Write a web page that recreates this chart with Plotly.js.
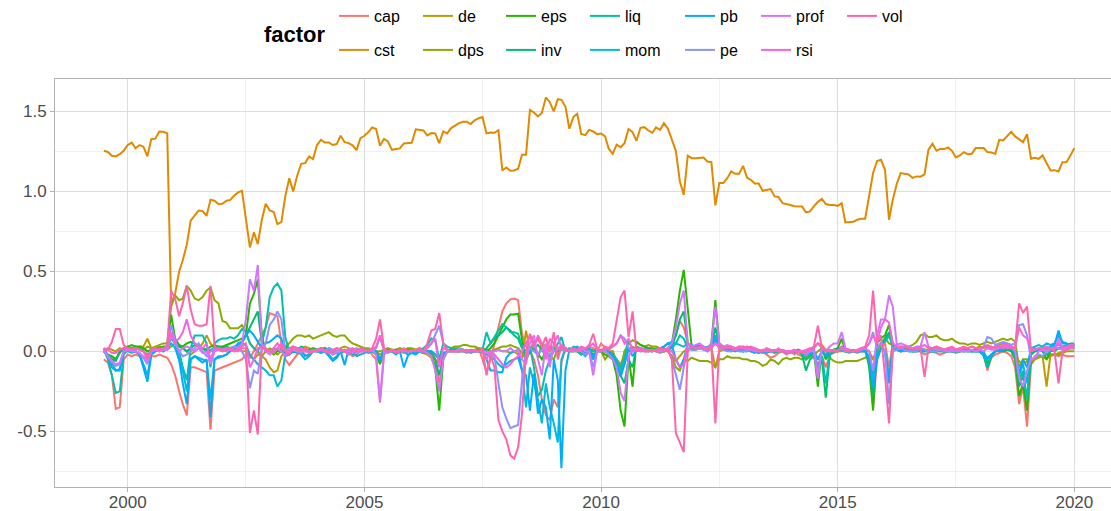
<!DOCTYPE html>
<html><head><meta charset="utf-8">
<script src="https://cdn.plot.ly/plotly-3.0.1.min.js"></script>
<style>html,body{margin:0;padding:0;background:#fff;overflow:hidden}#chart{width:1111px;height:511px}</style>
</head><body><div id="chart"></div>
<script>
// factor levels in ggplot order and their hue-palette colours
const factors = ['cap','cst','de','dps','eps','inv','liq','mom','pb','pe','prof','rsi','vol'];
const colors = ['#F8766D','#E18A00','#BE9C00','#8CAB00','#24B700','#00BE70','#00C1AB','#00BBDA','#00ACFC','#8B93FF','#D575FE','#F962DD','#FF65AC'];
// monthly series start (July 1999)
const startYear = 1999, startMonth = 7;
const xTickVals = ['2000-01-01','2005-01-01','2010-01-01','2015-01-01','2020-01-01'];
const xTickText = ['2000','2005','2010','2015','2020'];
const yTickVals = [-0.5,0,0.5,1,1.5];
const yTickText = ['-0.5','0.0','0.5','1.0','1.5'];

const cap = [
-0.05,-0.07,-0.15,-0.36,-0.35,-0.05,
-0.02,-0.03,-0.02,-0.03,-0.04,-0.05,-0.03,-0.03,-0.02,-0.03,-0.04,-0.08,
-0.15,-0.25,-0.33,-0.40,-0.10,-0.10,-0.11,-0.12,-0.13,-0.49,-0.12,-0.11,
-0.10,-0.09,-0.08,-0.07,-0.06,-0.05,-0.02,-0.04,0.00,0.05,0.10,0.15,
0.24,0.23,0.22,0.05,-0.05,-0.085,-0.05,-0.02,0.00,-0.02,-0.03,0.00,
0.00,-0.01,0.01,0.00,-0.02,-0.01,0.00,0.01,-0.01,-0.03,-0.02,0.00,
0.00,0.01,-0.02,-0.05,-0.32,-0.02,0.00,0.00,0.01,0.00,-0.01,0.00,
0.00,0.01,0.00,-0.01,0.00,-0.01,-0.05,-0.20,-0.05,0.00,0.01,0.00,
0.00,0.00,-0.01,0.00,0.01,0.02,-0.05,-0.13,-0.05,0.05,0.15,0.25,
0.30,0.325,0.33,0.32,0.11,0.03,0.00,-0.05,-0.15,-0.30,-0.40,-0.43,
-0.30,-0.35,-0.07,0.02,0.00,0.00,0.02,-0.01,0.01,0.03,0.02,0.00,
0.05,0.02,0.00,-0.03,-0.05,-0.08,-0.03,0.00,0.03,0.02,0.01,0.00,
0.00,0.01,0.00,-0.01,0.00,0.02,0.05,0.10,0.19,0.15,0.05,0.02,
0.03,0.04,0.03,0.02,0.03,0.10,0.03,0.02,0.02,0.02,0.01,0.02,
0.02,0.03,0.02,0.01,0.00,0.00,-0.02,-0.04,-0.03,-0.01,0.00,-0.01,
-0.01,0.00,-0.02,-0.03,-0.05,-0.03,-0.02,-0.08,-0.03,-0.10,-0.02,-0.01,
0.00,0.02,0.00,-0.01,0.00,-0.01,0.00,0.00,-0.05,-0.35,-0.05,0.02,
0.05,-0.10,0.05,0.02,0.00,0.00,0.01,0.00,0.00,0.00,-0.02,-0.01,
0.00,-0.01,-0.02,-0.01,0.00,0.00,-0.01,0.00,0.00,0.01,0.00,0.00,
0.00,-0.02,-0.12,-0.04,-0.02,-0.01,0.00,-0.01,-0.03,-0.10,-0.33,-0.22,
-0.47,-0.08,-0.03,-0.02,-0.03,-0.02,-0.03,-0.02,-0.03,-0.02,-0.03,-0.03,
-0.03];

const cst = [
1.254,1.247,1.223,1.219,1.233,1.254,
1.29,1.306,1.27,1.29,1.28,1.22,1.327,1.33,1.375,1.373,1.364,0.30,
0.36,0.50,0.57,0.667,0.817,0.848,0.881,0.877,0.848,0.948,0.942,0.921,
0.923,0.942,0.946,0.973,0.994,1.004,0.82,0.65,0.744,0.671,0.823,0.923,
0.881,0.871,0.796,0.808,0.969,1.083,1.0,1.098,1.173,1.177,1.219,1.202,
1.29,1.323,1.306,1.306,1.29,1.296,1.348,1.308,1.302,1.288,1.258,1.333,
1.348,1.371,1.40,1.39,1.285,1.329,1.313,1.26,1.265,1.269,1.30,1.30,
1.304,1.388,1.383,1.381,1.35,1.365,1.363,1.302,1.375,1.363,1.396,1.41,
1.427,1.435,1.435,1.421,1.444,1.458,1.465,1.363,1.369,1.367,1.383,1.131,
1.15,1.129,1.131,1.142,1.229,1.229,1.51,1.494,1.469,1.49,1.588,1.558,
1.50,1.577,1.573,1.531,1.392,1.465,1.485,1.36,1.352,1.385,1.375,1.358,
1.362,1.344,1.267,1.235,1.292,1.277,1.302,1.39,1.371,1.317,1.398,1.402,
1.381,1.367,1.40,1.385,1.427,1.392,1.327,1.254,1.0625,0.979,1.223,1.208,
1.208,1.2125,1.2125,1.1875,1.183,0.9125,1.052,1.052,1.083,1.125,1.11,1.11,
1.16,1.085,1.073,1.05,1.05,1.004,1.01,1.015,0.969,0.965,0.927,0.919,
0.915,0.908,0.908,0.906,0.869,0.875,0.906,0.935,0.954,0.921,0.915,0.915,
0.91,0.927,0.806,0.808,0.81,0.823,0.829,0.829,0.973,1.115,1.19,1.198,
1.135,0.823,0.948,1.048,1.115,1.108,1.106,1.085,1.094,1.092,1.106,1.26,
1.298,1.254,1.265,1.265,1.275,1.254,1.2125,1.225,1.246,1.233,1.235,1.271,
1.273,1.271,1.246,1.244,1.235,1.323,1.319,1.344,1.373,1.344,1.323,1.308,
1.358,1.204,1.21,1.204,1.225,1.177,1.131,1.133,1.125,1.183,1.183,1.223,
1.271];

const de = [
0.00,0.02,0.01,0.00,0.02,0.01,
0.01,0.02,0.01,0.03,0.03,0.08,0.02,0.02,0.03,0.02,0.01,0.03,
0.05,0.03,0.02,0.00,-0.02,0.00,0.02,0.05,0.10,0.05,0.02,0.02,
0.02,0.01,0.02,0.03,0.02,0.00,0.00,-0.03,-0.05,-0.02,-0.03,-0.05,
-0.10,-0.13,-0.12,-0.03,0.00,0.02,0.03,0.02,0.01,0.03,0.02,0.00,
0.01,0.02,0.02,0.01,0.00,-0.01,0.02,0.03,0.02,0.01,0.00,0.01,
0.00,0.01,0.00,0.00,-0.02,0.00,0.01,0.00,0.00,0.01,0.00,0.00,
0.00,-0.01,0.00,-0.01,-0.02,-0.04,-0.10,-0.08,-0.02,0.00,0.00,0.01,
0.00,0.01,0.00,0.00,0.00,0.00,-0.01,0.00,0.00,0.00,0.01,0.00,
0.00,-0.01,0.00,-0.02,-0.05,0.13,0.00,0.07,-0.04,0.05,0.03,0.00,
0.03,-0.02,0.04,0.02,0.00,0.00,0.00,0.02,0.01,0.00,0.01,0.00,
0.00,0.00,0.00,0.00,-0.06,-0.15,0.00,0.02,0.02,0.01,0.02,0.01,
0.02,0.01,0.02,0.02,0.00,0.00,-0.03,-0.06,-0.03,0.00,0.01,0.02,
0.01,0.02,0.02,0.00,0.02,-0.10,0.00,0.01,0.02,0.01,0.02,0.01,
0.00,0.01,0.00,0.00,-0.01,0.00,0.00,0.00,0.01,0.00,0.00,0.00,
0.00,0.01,0.00,0.00,-0.01,0.00,0.03,0.05,0.04,0.01,0.00,0.00,
0.00,0.00,0.00,0.01,0.00,0.00,0.00,0.00,0.00,-0.05,0.02,0.04,
0.06,0.10,0.05,0.02,0.00,0.01,0.01,0.00,0.00,0.02,0.01,0.01,
0.01,0.02,0.01,0.00,0.01,0.00,0.00,0.01,0.00,0.01,0.00,0.02,
0.03,0.02,0.03,0.02,0.03,0.04,0.05,0.05,0.04,-0.03,-0.06,-0.08,
-0.06,-0.08,-0.05,-0.04,-0.03,-0.22,-0.02,-0.02,-0.01,0.00,0.01,0.02,
0.02];

const dps = [
0.00,-0.03,-0.05,-0.05,0.00,0.02,
0.03,0.02,0.03,0.02,0.01,0.03,0.02,0.03,0.04,0.05,0.05,0.28,
0.35,0.32,0.33,0.41,0.38,0.33,0.32,0.34,0.38,0.40,0.32,0.30,
0.19,0.18,0.145,0.145,0.145,0.165,0.12,0.05,0.02,0.00,-0.03,0.00,
0.02,0.00,-0.02,0.00,0.03,0.05,0.08,0.10,0.10,0.09,0.10,0.08,
0.09,0.10,0.11,0.12,0.10,0.09,0.10,0.10,0.07,0.05,0.04,0.03,
0.02,0.02,0.01,0.00,0.00,0.01,0.02,0.01,0.01,0.02,0.01,0.02,
0.02,0.01,0.02,0.01,0.00,0.00,-0.05,-0.08,-0.04,0.00,0.02,0.03,
0.03,0.04,0.04,0.03,0.03,0.02,0.02,0.01,0.00,0.01,0.02,0.03,
0.03,0.04,0.03,0.02,-0.01,-0.05,0.00,0.05,0.08,0.04,0.00,-0.03,
-0.05,0.02,0.03,0.02,0.00,0.01,0.02,0.01,0.00,-0.01,0.00,0.01,
0.00,-0.05,-0.02,0.00,-0.08,-0.10,0.00,0.05,0.07,0.06,0.04,0.03,
0.04,0.03,0.03,0.02,0.02,0.00,-0.03,-0.10,-0.12,-0.05,-0.06,-0.04,
-0.05,-0.06,-0.06,-0.06,-0.07,-0.10,-0.05,-0.05,-0.03,-0.04,-0.04,-0.04,
-0.05,-0.05,-0.06,-0.06,-0.07,-0.09,-0.08,-0.05,-0.06,-0.08,-0.05,-0.04,
-0.05,-0.04,-0.04,-0.05,-0.03,-0.03,-0.02,0.00,0.02,0.01,-0.04,-0.06,
-0.07,-0.07,-0.06,-0.06,-0.06,-0.06,-0.05,-0.04,-0.02,-0.05,0.00,0.05,
0.08,0.05,0.04,0.02,0.03,0.02,0.03,0.04,0.06,0.10,0.11,0.09,
0.09,0.10,0.08,0.07,0.07,0.08,0.06,0.05,0.05,0.04,0.05,0.05,
0.04,0.05,0.06,0.05,0.06,0.07,0.08,0.07,0.08,0.06,-0.10,-0.05,
-0.05,-0.08,-0.05,-0.03,-0.03,-0.05,-0.02,-0.02,-0.02,-0.01,0.00,0.00,
0.00];

const eps = [
0.00,-0.02,-0.03,-0.05,-0.01,0.02,
0.03,0.04,0.03,0.03,0.02,0.00,0.01,0.02,0.02,0.03,0.03,0.23,
0.08,0.04,0.03,0.05,0.06,0.05,0.03,0.02,0.01,0.03,0.04,0.03,
0.03,0.04,0.05,0.06,0.07,0.08,0.10,0.30,0.36,0.45,0.10,0.00,
0.00,-0.02,0.00,0.02,0.03,0.02,0.00,0.01,0.02,0.00,0.01,0.02,
0.01,0.00,0.02,0.01,0.00,-0.01,0.01,0.00,0.00,0.01,0.00,0.01,
0.00,0.01,0.00,-0.02,-0.08,0.00,0.01,0.00,0.01,0.00,0.00,0.01,
0.01,0.00,0.00,-0.01,0.00,-0.02,-0.10,-0.37,-0.05,0.00,0.01,0.00,
0.00,0.01,0.00,0.00,0.00,0.01,0.00,0.00,0.02,0.05,0.10,0.15,
0.20,0.23,0.23,0.235,0.07,-0.05,0.00,0.02,-0.02,-0.05,0.00,0.03,
0.02,0.00,0.03,0.02,0.00,0.01,0.00,-0.02,0.00,0.00,-0.05,0.00,
0.00,-0.02,-0.03,-0.05,-0.15,-0.37,-0.47,-0.03,-0.22,0.06,0.04,0.03,
0.02,0.02,0.01,0.01,0.00,0.02,0.05,0.20,0.38,0.51,0.25,0.03,
0.03,0.04,0.03,0.02,0.05,0.32,0.05,0.03,0.02,0.03,0.02,0.02,
0.02,0.01,0.02,0.01,0.00,0.00,0.01,0.00,0.00,0.01,0.00,0.00,
0.00,0.00,0.01,-0.02,-0.05,-0.03,0.00,-0.22,0.02,-0.05,0.00,0.01,
0.02,0.08,0.00,0.01,0.00,0.00,0.01,0.02,-0.10,-0.37,0.05,0.08,
0.10,0.165,0.05,0.02,0.03,0.02,0.02,0.01,0.02,0.02,0.01,0.00,
0.00,0.01,0.00,0.00,0.00,0.01,0.00,0.00,0.01,0.00,0.00,0.01,
0.01,0.00,-0.08,-0.03,0.00,0.01,0.00,0.01,0.02,-0.05,-0.28,-0.20,
-0.37,-0.02,0.00,0.01,0.00,-0.05,0.00,0.01,0.02,0.02,0.03,0.03,
0.03];

const inv = [
0.00,-0.02,-0.05,-0.06,0.00,0.02,
0.02,0.01,0.02,0.01,0.00,-0.02,0.00,0.01,0.02,0.01,0.03,0.10,
0.05,0.03,0.02,0.00,0.02,0.04,0.03,0.02,0.00,0.01,0.02,0.03,
0.02,0.03,0.02,0.01,0.02,0.05,0.10,0.15,0.20,0.25,0.05,0.00,
0.00,0.02,0.01,0.00,0.01,0.02,0.00,0.01,0.03,0.02,0.00,0.01,
0.01,0.00,0.02,0.00,-0.01,0.00,0.01,0.00,0.00,-0.01,0.00,0.01,
0.00,0.00,0.01,0.00,-0.05,0.00,0.01,0.00,0.00,0.01,0.00,0.00,
0.00,0.01,0.00,0.00,0.00,-0.02,-0.05,-0.15,-0.03,0.00,0.00,0.01,
0.00,0.00,0.01,0.00,0.00,0.00,0.00,0.02,0.05,0.08,0.10,0.12,
0.15,0.13,0.10,0.08,0.02,-0.02,0.00,0.02,0.04,0.01,-0.03,-0.02,
0.00,0.02,0.01,0.01,0.00,0.00,0.00,0.01,0.00,0.00,-0.02,0.00,
0.01,0.00,-0.02,-0.03,-0.08,-0.15,-0.20,-0.05,-0.10,0.03,0.02,0.01,
0.01,0.01,0.00,0.00,0.00,0.01,0.03,0.10,0.20,0.25,0.05,0.02,
0.02,0.02,0.01,0.02,0.03,0.15,0.03,0.02,0.01,0.01,0.00,0.01,
0.00,0.01,0.00,0.00,-0.01,0.00,0.00,0.00,-0.01,0.00,0.00,0.00,
0.00,-0.01,0.00,-0.02,-0.12,-0.05,-0.03,-0.12,-0.05,-0.29,-0.02,0.00,
0.01,0.03,0.00,0.00,0.00,0.00,0.00,0.01,-0.08,-0.28,0.02,0.05,
0.08,0.12,0.04,0.02,0.02,0.01,0.02,0.00,0.00,0.01,0.00,0.00,
0.00,0.00,0.01,0.00,0.00,0.00,0.00,0.01,0.00,0.00,0.01,0.00,
0.00,-0.02,-0.10,-0.03,0.00,0.01,0.00,0.01,0.00,-0.05,-0.22,-0.15,
-0.30,-0.02,0.00,0.00,0.01,0.00,0.01,0.00,0.02,0.02,0.01,0.02,
0.02];

const liq = [
0.01,-0.05,-0.15,-0.26,-0.25,-0.02,
0.01,0.02,0.01,0.02,0.00,-0.03,0.00,0.01,0.02,0.02,0.03,0.08,
0.05,0.00,-0.10,-0.18,0.02,0.10,0.10,0.10,0.05,-0.10,0.05,0.07,
0.08,0.08,0.09,0.08,0.10,0.14,0.12,0.05,0.02,0.00,0.05,0.15,
0.34,0.40,0.425,0.38,0.09,0.00,0.01,0.00,0.02,0.01,0.00,0.01,
0.00,0.01,0.00,0.02,0.01,0.00,-0.01,0.00,0.01,0.00,0.01,0.00,
0.00,0.00,0.01,0.00,-0.06,0.00,0.01,0.00,0.00,0.00,0.01,0.00,
0.01,0.00,0.00,0.02,0.04,0.08,0.07,-0.05,0.05,0.03,0.02,0.02,
0.02,0.01,0.00,0.01,0.00,0.00,0.01,0.12,0.05,0.09,0.13,0.17,
0.15,0.12,0.12,0.11,0.03,0.00,0.03,-0.10,-0.28,-0.24,-0.12,-0.05,
0.00,0.05,0.09,0.00,0.02,0.01,0.00,-0.02,0.00,0.02,0.00,0.01,
0.00,0.02,0.00,-0.02,-0.05,-0.10,-0.05,0.07,0.01,0.02,0.01,0.01,
0.01,0.00,0.01,0.00,0.00,0.01,0.02,0.05,0.10,0.08,0.02,0.01,
0.01,0.02,0.02,0.01,0.03,0.10,0.02,0.02,0.01,0.00,0.01,0.00,
0.00,0.00,0.01,0.00,0.00,-0.01,0.00,0.00,0.00,0.01,0.00,0.00,
0.00,0.00,0.00,-0.01,-0.05,-0.02,-0.02,-0.10,-0.03,-0.20,-0.02,0.00,
0.00,0.02,0.00,0.00,0.00,0.00,0.00,0.00,-0.05,-0.20,0.02,0.05,
0.06,0.10,0.03,0.02,0.01,0.01,0.01,0.00,0.01,0.00,0.00,0.00,
0.00,0.00,0.00,0.01,0.00,0.00,0.00,0.00,0.00,0.01,0.00,0.00,
0.00,-0.03,-0.10,-0.03,0.00,0.01,0.02,0.02,0.02,0.00,-0.18,-0.12,
-0.30,0.00,0.02,0.01,0.00,-0.02,0.00,0.03,0.04,0.03,0.04,0.05,
0.05];

const mom = [
0.02,-0.03,-0.08,-0.12,-0.11,0.00,
0.00,-0.01,0.00,-0.02,-0.08,-0.15,-0.02,0.00,0.01,0.00,0.02,0.05,
0.02,-0.05,-0.12,-0.25,-0.05,-0.03,-0.04,-0.05,-0.06,-0.30,-0.05,-0.04,
-0.03,-0.02,0.00,0.02,0.04,0.05,0.04,-0.02,-0.05,-0.08,-0.10,-0.12,
-0.15,-0.15,-0.22,-0.18,-0.02,-0.02,0.01,0.00,-0.02,-0.05,-0.03,0.00,
0.00,-0.01,0.00,-0.02,-0.05,-0.03,0.00,0.01,0.00,-0.02,0.00,0.01,
0.00,-0.01,0.00,0.00,-0.05,0.00,0.01,0.00,-0.01,0.00,0.00,-0.02,
-0.01,-0.02,0.00,-0.01,0.00,0.00,-0.02,-0.05,-0.02,0.00,0.00,0.00,
0.00,0.01,0.00,-0.01,0.00,0.00,0.00,-0.02,-0.03,-0.05,-0.08,-0.10,
-0.08,-0.06,-0.05,-0.04,-0.12,-0.35,-0.10,-0.20,-0.30,-0.45,-0.20,-0.35,
-0.45,-0.57,-0.05,0.02,0.00,0.03,0.02,0.00,-0.03,0.00,-0.05,0.00,
0.00,0.02,0.00,-0.03,-0.08,-0.12,-0.08,0.02,0.00,0.01,0.00,0.01,
0.00,0.00,0.01,0.02,0.03,0.05,0.06,0.05,0.04,0.03,0.05,0.04,
0.03,0.03,0.02,0.03,0.04,0.06,0.03,0.02,0.03,0.02,0.02,0.01,
0.01,0.02,0.01,0.00,0.01,0.00,0.00,0.01,0.00,0.00,0.01,0.00,
0.00,0.00,0.01,0.00,-0.02,-0.01,0.00,-0.05,0.00,-0.02,0.00,0.01,
0.00,0.01,0.00,0.00,0.01,0.00,0.00,0.00,-0.03,-0.15,-0.02,0.02,
0.00,-0.15,0.02,0.01,0.00,0.01,0.00,0.00,0.01,0.00,0.00,0.01,
0.00,0.01,0.00,0.00,0.01,0.00,0.00,0.00,0.01,0.00,0.00,0.00,
0.00,-0.01,-0.04,-0.02,0.00,0.01,0.01,0.02,0.02,0.00,-0.15,-0.08,
-0.20,0.02,0.03,0.04,0.03,0.05,0.04,0.05,0.10,0.06,0.05,0.04,
0.04];

const pb = [
0.02,-0.03,-0.10,-0.12,-0.12,0.00,
0.01,0.00,0.00,-0.02,-0.10,-0.19,-0.02,0.00,0.01,0.00,0.02,0.12,
0.05,-0.05,-0.20,-0.33,-0.05,-0.03,-0.05,-0.07,-0.05,-0.41,-0.05,-0.03,
-0.03,-0.02,0.00,0.02,0.05,0.06,0.10,0.13,0.10,0.06,0.02,0.05,
0.06,0.08,0.10,0.08,-0.03,-0.02,0.00,-0.01,0.00,-0.03,-0.02,0.00,
0.00,0.02,0.00,-0.03,-0.06,-0.04,0.00,-0.085,0.01,0.00,-0.03,-0.02,
-0.01,0.00,0.00,0.00,-0.05,0.00,0.01,0.00,-0.02,0.00,-0.10,-0.03,
0.00,-0.01,0.00,0.00,0.00,0.00,-0.02,-0.05,-0.01,0.00,0.00,0.00,
0.00,0.00,0.00,0.00,0.00,0.00,0.00,-0.05,-0.12,-0.12,-0.13,-0.13,
-0.04,-0.01,0.00,0.01,-0.12,-0.15,-0.37,-0.14,-0.39,-0.30,-0.35,-0.55,
-0.05,-0.18,-0.73,-0.12,0.01,0.02,0.03,0.01,-0.02,0.01,-0.04,0.00,
0.00,0.02,0.00,-0.03,-0.08,-0.16,-0.08,0.02,-0.03,0.01,0.02,0.01,
0.01,0.00,0.01,0.02,0.03,0.05,0.04,-0.05,-0.10,-0.05,0.05,0.03,
0.03,0.02,0.03,0.02,0.03,0.08,0.03,0.02,0.01,0.01,0.02,0.01,
0.00,0.01,0.00,-0.01,0.00,0.00,-0.01,0.00,0.00,0.01,0.00,0.00,
0.00,0.00,0.01,0.00,-0.02,-0.01,0.00,-0.05,0.00,-0.03,0.00,0.01,
0.01,0.02,0.00,0.00,0.00,0.00,0.01,0.00,-0.05,-0.23,-0.05,0.02,
0.00,-0.20,0.02,0.01,0.00,0.01,0.00,0.00,0.00,0.00,0.01,0.00,
0.00,0.00,0.01,0.00,0.00,0.00,0.00,0.00,0.01,0.00,0.00,0.00,
0.00,-0.02,-0.05,-0.02,0.00,0.00,0.01,0.02,0.02,0.00,-0.14,-0.05,
-0.10,0.02,0.01,0.00,0.02,0.02,0.03,0.04,0.13,0.05,0.05,0.04,
0.04];

const pe = [
0.00,-0.03,-0.07,-0.09,-0.08,0.00,
0.01,0.00,0.00,-0.01,-0.04,-0.08,0.00,0.01,0.00,0.01,0.02,0.165,
0.07,0.00,-0.03,-0.02,0.00,0.02,0.05,0.00,-0.03,0.00,0.02,0.01,
0.01,0.00,0.02,0.03,0.02,0.00,-0.05,-0.23,-0.12,-0.14,0.02,0.05,
0.165,0.20,0.25,0.20,0.00,0.02,0.01,0.00,-0.01,0.02,0.00,0.01,
0.00,0.01,0.00,0.02,0.00,-0.01,0.00,0.01,0.00,0.00,0.02,0.01,
0.00,0.01,0.00,0.02,0.09,0.00,-0.01,0.00,0.00,0.01,0.00,0.00,
0.00,0.01,0.00,0.00,0.02,0.05,0.10,0.16,0.05,0.01,0.00,0.00,
0.02,0.00,0.01,0.00,0.00,0.00,0.00,0.00,-0.02,-0.03,-0.20,-0.35,
-0.42,-0.48,-0.47,-0.46,-0.18,0.00,0.02,0.00,-0.02,0.01,0.00,-0.02,
0.00,0.01,0.03,0.02,0.00,0.00,0.01,0.00,-0.02,0.00,-0.10,0.00,
0.00,0.01,0.02,0.03,0.05,0.10,0.08,0.02,0.00,0.01,0.00,0.00,
0.00,0.00,0.01,0.00,0.00,0.02,-0.05,-0.15,-0.24,-0.10,0.02,0.01,
0.01,0.02,0.01,0.00,0.02,0.05,0.02,0.01,0.00,0.00,0.01,0.00,
0.00,0.00,0.01,0.00,0.00,0.00,0.00,0.00,0.01,0.00,0.00,0.00,
0.00,0.00,0.00,0.00,-0.01,0.00,0.02,-0.14,0.02,0.00,0.00,0.01,
0.00,0.02,0.00,0.00,0.00,0.00,0.01,0.02,0.05,0.12,0.02,0.05,
0.00,-0.33,0.00,0.01,0.02,0.01,0.00,0.00,0.00,0.02,0.01,0.00,
0.00,0.00,0.01,0.00,0.00,0.00,0.01,0.00,0.00,0.00,0.01,0.00,
0.01,0.03,0.09,0.08,0.04,0.05,0.06,0.05,0.04,0.05,0.165,0.17,
0.10,-0.05,-0.04,-0.02,-0.03,0.00,0.01,0.02,0.02,0.01,0.02,0.03,
0.03];

const prof = [
0.01,-0.03,-0.06,-0.08,-0.07,0.00,
0.01,0.00,0.00,-0.01,-0.03,-0.06,0.00,0.01,0.00,0.01,0.01,0.10,
0.05,0.00,0.02,0.03,0.02,0.00,0.02,-0.01,0.00,-0.08,0.00,0.01,
0.01,0.02,0.01,0.00,0.02,0.05,0.20,0.45,0.38,0.54,0.05,0.00,
-0.02,0.00,0.02,0.00,-0.03,0.00,0.01,0.00,0.02,0.00,-0.01,0.00,
0.00,0.01,0.00,0.00,-0.02,0.00,0.01,0.00,0.00,-0.01,0.00,0.00,
0.00,0.00,0.01,-0.02,-0.31,0.00,0.00,0.01,0.00,0.00,0.00,0.00,
0.00,0.01,0.00,0.00,-0.01,-0.03,-0.12,-0.25,-0.05,0.00,0.00,0.00,
0.00,0.01,0.00,0.00,0.00,0.00,0.00,-0.01,0.00,0.00,0.01,0.00,
0.00,0.02,0.00,0.01,-0.05,-0.08,0.05,0.10,-0.05,-0.15,0.05,-0.10,
0.05,0.02,0.04,0.02,0.00,0.01,0.00,0.02,0.00,0.00,-0.15,0.00,
0.00,0.00,-0.02,-0.05,-0.10,-0.26,-0.31,-0.03,0.01,0.02,0.01,0.00,
0.00,0.01,0.00,0.00,0.00,0.02,0.05,0.15,0.30,0.38,0.05,0.03,
0.04,0.05,0.03,0.02,0.05,0.28,0.05,0.03,0.04,0.03,0.02,0.03,
0.02,0.01,0.02,0.00,0.00,0.00,0.01,0.00,0.00,0.02,0.00,0.00,
0.00,0.01,0.00,0.00,-0.02,0.00,0.00,-0.17,0.02,0.00,0.03,0.05,
0.05,0.12,0.02,0.01,0.00,0.00,0.01,0.02,0.00,-0.12,0.10,0.20,
0.20,0.35,0.28,0.04,0.05,0.04,0.03,0.02,0.03,0.03,0.12,0.03,
0.02,0.01,0.02,0.01,0.00,0.01,0.00,0.01,0.00,0.00,0.01,0.00,
0.01,0.00,0.02,0.01,0.01,0.02,0.03,0.02,0.03,0.00,-0.16,-0.22,
-0.12,-0.05,-0.04,0.00,0.01,0.00,0.02,0.01,0.08,0.02,0.01,0.02,
0.02];

const rsi = [
0.02,0.01,-0.01,-0.01,0.01,0.02,
0.02,0.01,0.02,0.01,0.00,-0.03,0.01,0.02,0.01,0.02,0.03,0.12,
0.06,0.08,0.12,0.20,0.10,0.05,0.03,0.02,0.05,-0.05,0.01,0.02,
0.01,0.02,0.01,0.00,0.02,0.03,0.05,-0.10,-0.05,0.02,0.03,0.01,
0.00,0.02,0.05,0.02,0.00,0.01,0.03,0.02,0.00,0.01,-0.01,0.00,
0.01,0.02,0.00,-0.01,0.01,0.02,0.01,0.00,0.01,0.02,0.01,0.00,
0.01,0.00,0.01,0.03,0.10,0.01,0.00,0.01,0.00,0.00,0.01,0.00,
0.00,0.01,0.00,0.00,0.02,0.05,0.08,-0.10,0.02,0.01,0.00,0.00,
0.00,0.01,0.00,0.00,0.00,0.00,0.01,-0.05,0.00,-0.02,-0.05,-0.08,
-0.10,-0.08,-0.05,-0.03,0.00,0.05,0.10,0.02,0.10,0.05,-0.05,0.08,
0.05,0.10,0.02,0.00,0.01,0.02,0.00,0.01,0.02,0.03,0.05,0.01,
0.00,0.02,0.01,0.03,0.05,0.10,0.05,0.08,0.00,0.01,0.02,0.01,
0.01,0.00,0.01,0.02,0.01,0.02,0.00,-0.05,-0.10,-0.08,0.05,0.03,
0.02,0.03,0.02,0.02,0.03,0.05,0.04,0.03,0.02,0.03,0.02,0.02,
0.02,0.03,0.02,0.01,0.00,0.01,0.01,0.00,0.01,0.00,0.01,0.00,
0.00,0.01,0.00,0.00,0.01,0.02,0.02,0.05,0.02,0.01,0.00,0.01,
0.00,0.03,0.01,0.00,0.00,0.01,0.02,0.02,0.05,0.10,0.05,0.15,
0.20,0.18,0.05,0.03,0.02,0.03,0.02,0.02,0.02,0.03,0.04,0.02,
0.02,0.03,0.02,0.01,0.02,0.02,0.01,0.02,0.02,0.02,0.03,0.02,
0.02,0.03,0.03,0.02,0.03,0.03,0.04,0.04,0.03,0.02,0.15,0.10,
0.08,0.02,0.01,0.02,0.02,0.03,0.02,0.02,0.05,0.02,0.03,0.04,
0.04];

const vol = [
0.01,0.01,0.06,0.14,0.14,0.04,
0.02,0.01,0.02,0.01,0.00,-0.05,0.01,0.02,0.01,0.02,0.03,0.38,
0.33,0.22,0.30,0.41,0.26,0.17,0.16,0.16,0.17,0.41,0.03,0.01,
0.00,0.01,0.02,0.01,0.00,0.02,0.02,-0.51,-0.37,-0.52,0.03,0.02,
0.00,-0.01,0.02,0.05,0.00,-0.02,0.03,0.01,0.00,0.02,-0.01,0.01,
0.00,0.02,0.01,-0.01,0.00,0.02,0.01,0.00,-0.02,0.01,0.00,0.02,
0.01,0.00,0.02,0.08,0.20,0.02,0.00,0.01,-0.01,0.00,0.02,0.00,
0.01,0.00,0.02,0.00,0.05,0.13,0.14,0.24,0.05,0.01,0.00,0.00,
0.00,0.01,0.00,0.00,0.01,0.00,0.02,-0.15,-0.02,-0.10,-0.43,-0.50,
-0.55,-0.65,-0.67,-0.60,-0.39,0.00,0.11,0.05,0.08,0.03,0.09,0.00,
0.12,-0.05,0.03,0.02,0.00,0.02,0.01,0.03,0.02,0.04,0.11,0.02,
0.00,0.03,0.02,0.05,0.20,0.34,0.38,0.09,0.25,0.00,0.01,0.00,
0.00,0.01,0.00,0.02,0.00,0.01,-0.05,-0.51,-0.57,-0.63,0.00,0.03,
0.02,0.03,0.02,0.01,0.03,-0.45,0.03,0.02,0.03,0.02,0.01,0.03,
0.03,0.02,0.03,0.02,0.01,0.00,0.02,0.01,0.00,0.01,0.00,-0.02,
0.00,-0.02,0.00,-0.01,0.00,0.01,0.03,0.16,0.02,0.00,0.01,0.00,
0.00,0.02,0.01,0.00,0.01,0.00,0.02,0.03,0.10,0.38,0.05,0.10,
-0.15,-0.45,0.02,0.03,0.03,0.03,0.02,0.01,0.02,0.02,-0.16,0.02,
0.02,0.03,0.02,0.01,0.02,0.03,0.01,0.02,0.03,0.02,0.03,0.02,
0.02,0.03,0.04,0.03,0.02,0.03,0.02,0.03,0.02,0.03,0.30,0.24,
0.28,0.00,0.01,0.02,0.02,0.01,0.02,0.00,-0.20,0.00,0.01,0.03,
0.03];

const seriesValues = [cap,cst,de,dps,eps,inv,liq,mom,pb,pe,prof,rsi,vol];

// legend layout: ggplot legend has 7 columns x 2 rows filled column-wise
const legendColX = [340, 424, 507, 591, 686, 762, 848];
const legendRowY = [16, 50];

function monthDates(n){
  const out = [];
  for (let i = 0; i < n; i++){
    const m = startMonth - 1 + i;
    const y = startYear + Math.floor(m / 12);
    const mm = (m % 12) + 1;
    out.push(y + '-' + String(mm).padStart(2,'0') + '-01');
  }
  return out;
}

const W = 1111, H = 511;
const traces = [];
const layout = {
  width: W, height: H,
  margin: {l: 55, r: 0, t: 79, b: 24, pad: 0, autoexpand: false},
  paper_bgcolor: '#ffffff', plot_bgcolor: '#ffffff',
  font: {family: 'Liberation Sans, Arial, sans-serif', color: '#4d4d4d'},
  showlegend: true,
  xaxis: {
    type: 'date',
    range: ['1998-06-19', '2020-10-10'],
    tickmode: 'array', tickvals: xTickVals, ticktext: xTickText,
    showgrid: true, gridcolor: '#dedede', gridwidth: 1,
    minor: {tickmode: 'linear', dtick: 'M30', tick0: '2000-01-01', showgrid: true, gridcolor: '#e8e8e8', gridwidth: 0.6, ticks: ''},
    showline: true, linecolor: '#b3b3b3', linewidth: 1, mirror: true,
    ticks: 'outside', ticklen: 4, tickcolor: '#b3b3b3', tickwidth: 1,
    ticklabelstandoff: -4,
    tickfont: {size: 17, color: '#4d4d4d'},
    zeroline: false, automargin: false
  },
  yaxis: {
    range: [-0.848, 1.703],
    tickmode: 'array', tickvals: yTickVals, ticktext: yTickText,
    showgrid: true, gridcolor: '#dedede', gridwidth: 1,
    minor: {tickmode: 'linear', dtick: 0.25, tick0: 0, showgrid: true, gridcolor: '#e8e8e8', gridwidth: 0.6, ticks: ''},
    showline: true, linecolor: '#b3b3b3', linewidth: 1, mirror: false,
    ticks: 'outside', ticklen: 4, tickcolor: '#b3b3b3', tickwidth: 1,
    tickfont: {size: 17, color: '#4d4d4d'},
    zeroline: false, automargin: false
  },
  annotations: [{
    text: '<b>factor</b>', xref: 'paper', yref: 'paper',
    x: (262 - 55) / 1056, y: 1 + (79 - 35) / 408,
    xanchor: 'left', yanchor: 'middle', showarrow: false,
    font: {size: 22, color: '#000000', family: 'Liberation Sans, Arial, sans-serif'}
  }]
};

factors.forEach((f, k) => {
  const vals = seriesValues[k];
  const legendId = k === 0 ? 'legend' : 'legend' + (k + 1);
  traces.push({
    type: 'scatter', mode: 'lines', name: f,
    x: monthDates(vals.length), y: vals,
    line: {color: colors[k], width: 2},
    legend: legendId, hoverinfo: 'skip'
  });
  const col = Math.floor(k / 2), row = k % 2;
  layout[legendId] = {
    xref: 'container', yref: 'container',
    x: (legendColX[col] - 6) / W, y: 1 - legendRowY[row] / H,
    xanchor: 'left', yanchor: 'middle',
    bgcolor: 'rgba(0,0,0,0)', borderwidth: 0,
    font: {size: 16, color: '#000000', family: 'Liberation Sans, Arial, sans-serif'},
    itemwidth: 30, orientation: 'v'
  };
});

Plotly.newPlot('chart', traces, layout, {displayModeBar: false, staticPlot: true});
</script>
</body></html>
